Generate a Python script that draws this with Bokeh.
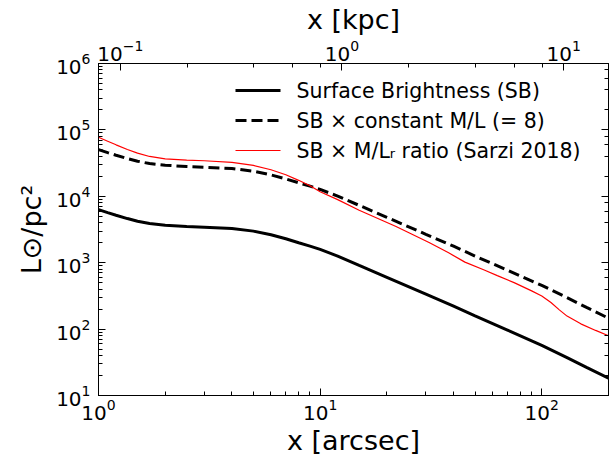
from bokeh.plotting import figure
from bokeh.models import LogAxis, Range1d, LogScale, Label, Arrow, CustomJSTickFormatter
from bokeh.embed import file_html
from bokeh.resources import INLINE

# ---- data ----
KPC_PER_ARCSEC = 0.0797

x_arcsec = [1, 1.1, 1.2, 1.35, 1.5, 1.7, 2, 2.5, 3, 4, 5, 6, 7, 8, 9, 10, 12, 15, 20, 30, 40,
            50, 70, 100, 130, 160, 200]
sb = [6310, 5690, 5190, 4620, 4220, 3890, 3670, 3510, 3430, 3270, 2990, 2630, 2290, 1995, 1780,
      1585, 1260, 912, 603, 335, 221, 158, 96.6, 56.9, 37.2, 26.3, 18.2]
sb_const_ml = [50500, 45500, 41500, 37000, 33800, 31100, 29400, 28100, 27400, 26200, 23900,
               21000, 18300, 15960, 14240, 12680, 10080, 7300, 4820, 2680, 1770, 1260, 773,
               455, 298, 210, 146]

x_red = [1, 1.1, 1.2, 1.35, 1.5, 1.7, 2, 2.5, 3, 4, 5, 6, 7, 8, 9, 10, 12, 15, 22, 31, 38, 45,
         55, 63, 75, 90, 100, 110, 120, 130, 150, 175, 200]
sb_ml_ratio = [77600, 67600, 59600, 50700, 44700, 39800, 36700, 35100, 34300, 32400, 29200,
               25100, 21100, 17400, 14400, 11700, 8910, 6170, 3510, 2020, 1410, 1020, 776, 638,
               501, 376, 316, 251, 195, 157, 120, 95.5, 79.4]

labels = ["Surface Brightness (SB)", "SB × constant M/L (= 8)", "SB × M/Lᵣ ratio (Sarzi 2018)"]

FONT = "DejaVu Sans"

p = figure(width=616, height=458, x_axis_type="log", y_axis_type="log",
           x_range=Range1d(1, 200), y_range=Range1d(10, 1e6),
           output_backend="svg", toolbar_location=None,
           min_border_left=98, min_border_right=8, min_border_top=62, min_border_bottom=61)

p.extra_x_ranges = {"kpc": Range1d(1 * KPC_PER_ARCSEC, 200 * KPC_PER_ARCSEC)}
p.extra_x_scales = {"kpc": LogScale()}
top = LogAxis(x_range_name="kpc", axis_label="x [kpc]")
p.add_layout(top, "above")
right = LogAxis(formatter=CustomJSTickFormatter(code="return ''"), major_label_standoff=0)
p.add_layout(right, "right")

bottom = p.below[0]
left = p.left[0]
bottom.axis_label = "x [arcsec]"
left.axis_label = "L⊙/pc²"

for ax in [bottom, left, top, right]:
    ax.major_tick_in = 7
    ax.major_tick_out = 0
    ax.minor_tick_in = 4
    ax.minor_tick_out = 0
    ax.axis_line_color = "black"
    ax.major_tick_line_color = "black"
    ax.minor_tick_line_color = "black"
    ax.axis_label_text_font = FONT
    ax.axis_label_text_font_style = "normal"
    ax.axis_label_text_font_size = "27px"
    ax.axis_label_text_color = "black"
    ax.major_label_text_font = FONT
    ax.major_label_text_color = "black"
    ax.major_label_text_font_size = "20px"

bottom.major_label_standoff = 3
top.major_label_standoff = 3
left.major_label_standoff = 8
bottom.axis_label_standoff = 2
top.axis_label_standoff = 2
left.axis_label_standoff = 6

p.xgrid.visible = False
p.ygrid.visible = False
p.outline_line_color = "black"
p.outline_line_width = 1

p.line(x_arcsec, sb, line_color="black", line_width=3)
p.line(x_arcsec, sb_const_ml, line_color="black", line_width=3, line_dash="11 5")
p.line(x_red, sb_ml_ratio, line_color="red", line_width=1.2)

# ---- legend drawn by hand (screen units, relative to the plot frame) ----
styles = [dict(line_color="black", line_width=3),
          dict(line_color="black", line_width=3, line_dash="11 5"),
          dict(line_color="red", line_width=1.2)]
row_y = [305, 275, 245]
for lab, st, yy in zip(labels, styles, row_y):
    p.add_layout(Arrow(end=None, x_start=137, y_start=yy, x_end=182, y_end=yy,
                       start_units="screen", end_units="screen", **st))
    p.add_layout(Label(x=198, y=yy, x_units="screen", y_units="screen", text=lab,
                       text_baseline="middle", text_align="left", text_font=FONT,
                       text_font_size="20.5px", text_color="black"))

open("out.html", "w").write(file_html(p, INLINE))
